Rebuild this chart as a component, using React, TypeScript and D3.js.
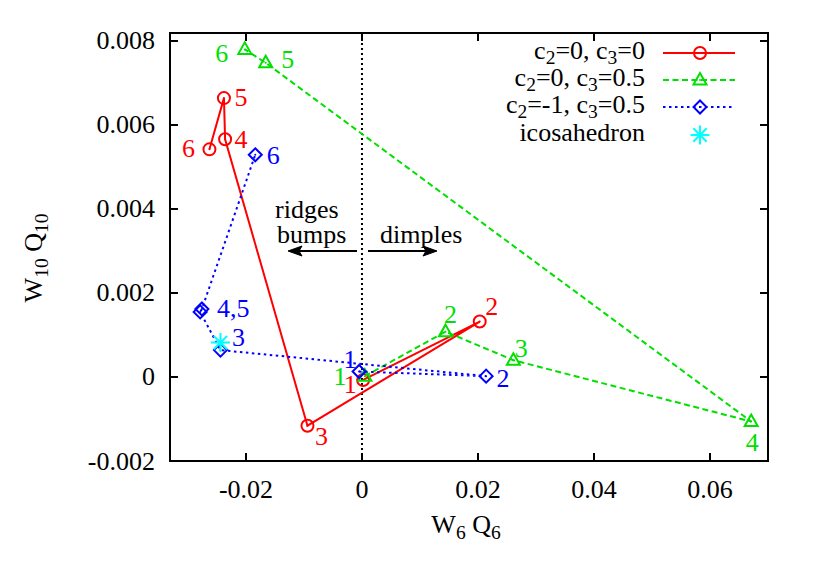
import React from "react";
import * as d3 from "d3";

// ---- data ----
const redX = [0.0002, 0.0203, -0.0094, -0.0236, -0.0238, -0.0263];
const redY = [-0.00007, 0.00132, -0.00116, 0.00566, 0.00664, 0.00542];
const redLabels = ["1", "2", "3", "4", "5", "6"];

const greenX = [0.0005, 0.0144, 0.0261, 0.0671, -0.0166, -0.0202];
const greenY = [0.00002, 0.00108, 0.0004, -0.00106, 0.00748, 0.0078];
const greenLabels = ["1", "2", "3", "4", "5", "6"];

const blueX = [-0.0005, 0.0214, -0.0244, -0.0279, -0.0276, -0.0184];
const blueY = [0.00013, 0.00002, 0.00064, 0.00155, 0.00162, 0.00529];
const blueLabels = ["1", "2", "3", "4,5", "", "6"];

const icoX = [-0.0244];
const icoY = [0.00082];

const xTicks = [-0.02, 0, 0.02, 0.04, 0.06];
const xTickLabels = ["-0.02", "0", "0.02", "0.04", "0.06"];
const yTicks = [-0.002, 0, 0.002, 0.004, 0.006, 0.008];
const yTickLabels = ["-0.002", "0", "0.002", "0.004", "0.006", "0.008"];

// ---- layout (label offsets in px, not data) ----
const redOff = [[-13, 5], [12, -15], [14, 11], [16, 0], [17, -1], [-21, -1]];
const greenOff = [[-25, 0], [5, -17], [8, -12], [1, 21], [22, -3], [-23, 4]];
const blueOff = [[-9, -12], [17, 2], [18, -13], [33, -3], [0, 0], [18, 1]];

const W = 814, H = 570;
const L = 170, R = 768, T = 33, B = 461;
const FONT = "'Liberation Serif', 'DejaVu Serif', serif";

const RED = "#ff0000";
const GREEN = "#00e000";
const BLUE = "#0000ff";
const CYAN = "#00ffff";

const x = d3.scaleLinear().domain([-0.0331, 0.07]).range([L, R]);
const y = d3.scaleLinear().domain([-0.002, 0.00819]).range([B, T]);

const lineGen = d3.line<[number, number]>().x((d) => x(d[0])).y((d) => y(d[1]));

function Circle({ cx, cy, c }: any) {
  return (
    <g>
      <circle cx={cx} cy={cy} r={6} fill="none" stroke={c} strokeWidth={2} />
      <circle cx={cx} cy={cy} r={1} fill={c} />
    </g>
  );
}
function Tri({ cx, cy, c }: any) {
  const p = `M${cx},${cy - 7}L${cx + 6.5},${cy + 4.5}L${cx - 6.5},${cy + 4.5}Z`;
  return (
    <g>
      <path d={p} fill="none" stroke={c} strokeWidth={2} />
      <circle cx={cx} cy={cy} r={1} fill={c} />
    </g>
  );
}
function Dia({ cx, cy, c }: any) {
  const s = 6.5;
  const p = `M${cx},${cy - s}L${cx + s},${cy}L${cx},${cy + s}L${cx - s},${cy}Z`;
  return (
    <g>
      <path d={p} fill="none" stroke={c} strokeWidth={2} />
      <circle cx={cx} cy={cy} r={1} fill={c} />
    </g>
  );
}
function Star({ cx, cy, c }: any) {
  const s = 9.5, d = 6.7;
  const p = `M${cx - s},${cy}L${cx + s},${cy}M${cx},${cy - s}L${cx},${cy + s}M${cx - d},${cy - d}L${cx + d},${cy + d}M${cx - d},${cy + d}L${cx + d},${cy - d}`;
  return <path d={p} stroke={c} strokeWidth={2} fill="none" />;
}

function Series({ xs, ys, labels, offs, color, dash, Marker }: any) {
  const pts: [number, number][] = xs.map((v: number, i: number) => [v, ys[i]]);
  return (
    <g>
      <path d={lineGen(pts) || ""} fill="none" stroke={color} strokeWidth={2} strokeDasharray={dash} />
      {pts.map((p, i) => (
        <Marker key={"m" + i} cx={x(p[0])} cy={y(p[1])} c={color} />
      ))}
      {pts.map((p, i) =>
        labels[i] ? (
          <text
            key={"t" + i}
            x={x(p[0]) + offs[i][0]}
            y={y(p[1]) + offs[i][1]}
            fill={color}
            fontSize={26}
            textAnchor="middle"
            dominantBaseline="central"
          >
            {labels[i]}
          </text>
        ) : null
      )}
    </g>
  );
}

export default function App() {
  const legend = [
    { parts: ["c", "2", "=0, c", "3", "=0"], color: RED, dash: undefined, M: Circle },
    { parts: ["c", "2", "=0, c", "3", "=0.5"], color: GREEN, dash: "6,3.5", M: Tri },
    { parts: ["c", "2", "=-1, c", "3", "=0.5"], color: BLUE, dash: "2.5,3.5", M: Dia },
  ];
  const legY = [53, 80, 107, 135];
  return (
    <svg width={W} height={H} style={{ position: "absolute", left: 0, top: 0, background: "#fff" }} fontFamily={FONT}>
      <rect x={0} y={0} width={W} height={H} fill="#fff" />
      {/* zero line */}
      <line x1={x(0)} x2={x(0)} y1={T} y2={B} stroke="#000" strokeWidth={2} strokeDasharray="2,3" />

      {/* ticks */}
      {xTicks.map((t, i) => (
        <g key={"xt" + i}>
          <line x1={x(t)} x2={x(t)} y1={B} y2={B - 8} stroke="#000" strokeWidth={2} />
          <line x1={x(t)} x2={x(t)} y1={T} y2={T + 8} stroke="#000" strokeWidth={2} />
          <text x={x(t)} y={498} fontSize={26} textAnchor="middle">
            {xTickLabels[i]}
          </text>
        </g>
      ))}
      {yTicks.map((t, i) => (
        <g key={"yt" + i}>
          <line x1={L} x2={L + 8} y1={y(t)} y2={y(t)} stroke="#000" strokeWidth={2} />
          <line x1={R} x2={R - 8} y1={y(t)} y2={y(t)} stroke="#000" strokeWidth={2} />
          <text x={155} y={y(t)} fontSize={26} textAnchor="end" dominantBaseline="central">
            {yTickLabels[i]}
          </text>
        </g>
      ))}

      {/* annotations */}
      <text x={275} y={218} fontSize={26}>ridges</text>
      <text x={277} y={243} fontSize={26}>bumps</text>
      <text x={380} y={243} fontSize={26}>dimples</text>
      <line x1={357} x2={290} y1={251} y2={251} stroke="#000" strokeWidth={2} />
      <path d="M288,251L302,246L299,251L302,256Z" fill="#000" stroke="#000" strokeWidth={1} />
      <line x1={368} x2={435} y1={251} y2={251} stroke="#000" strokeWidth={2} />
      <path d="M437,251L423,246L426,251L423,256Z" fill="#000" stroke="#000" strokeWidth={1} />

      {/* series */}
      <Series xs={redX} ys={redY} labels={redLabels} offs={redOff} color={RED} dash={undefined} Marker={Circle} />
      <Series xs={greenX} ys={greenY} labels={greenLabels} offs={greenOff} color={GREEN} dash="6,3.5" Marker={Tri} />
      <Series xs={blueX} ys={blueY} labels={blueLabels} offs={blueOff} color={BLUE} dash="2.5,3.5" Marker={Dia} />
      {icoX.map((v, i) => (
        <Star key={"ico" + i} cx={x(v)} cy={y(icoY[i])} c={CYAN} />
      ))}

      {/* legend */}
      {legend.map((l, i) => (
        <g key={"lg" + i}>
          <text x={645} y={legY[i] + 6} fontSize={26} textAnchor="end">
            <tspan>{l.parts[0]}</tspan>
            <tspan fontSize="0.75em" dy={5}>{l.parts[1]}</tspan>
            <tspan dy={-5}>{l.parts[2]}</tspan>
            <tspan fontSize="0.75em" dy={5}>{l.parts[3]}</tspan>
            <tspan dy={-5}>{l.parts[4]}</tspan>
          </text>
          <line x1={663} x2={735} y1={legY[i]} y2={legY[i]} stroke={l.color} strokeWidth={2} strokeDasharray={l.dash} />
          <l.M cx={700} cy={legY[i]} c={l.color} />
        </g>
      ))}
      <text x={645} y={legY[3] + 6} fontSize={26} textAnchor="end">icosahedron</text>
      <Star cx={700} cy={legY[3]} c={CYAN} />

      {/* frame */}
      <rect x={L} y={T} width={R - L} height={B - T} fill="none" stroke="#000" strokeWidth={2} />

      {/* axis labels */}
      <text x={466} y={533} fontSize={26} textAnchor="middle">
        W<tspan fontSize="0.75em" dy={6}>6</tspan>
        <tspan dy={-6}> Q</tspan>
        <tspan fontSize="0.75em" dy={6}>6</tspan>
      </text>
      <text transform="translate(42,258) rotate(-90)" fontSize={26} textAnchor="middle">
        W<tspan fontSize="0.75em" dy={6}>10</tspan>
        <tspan dy={-6}> Q</tspan>
        <tspan fontSize="0.75em" dy={6}>10</tspan>
      </text>
    </svg>
  );
}
